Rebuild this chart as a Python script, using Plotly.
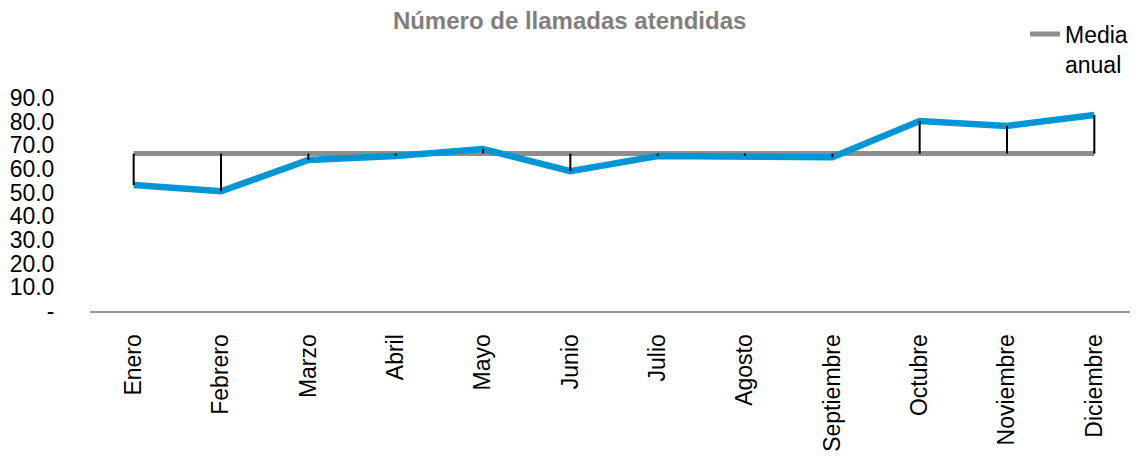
import plotly.graph_objects as go

months = ["Enero", "Febrero", "Marzo", "Abril", "Mayo", "Junio", "Julio",
          "Agosto", "Septiembre", "Octubre", "Noviembre", "Diciembre"]
llamadas = [53.2, 50.6, 63.8, 65.5, 68.4, 59.1, 65.5, 65.5, 65.0, 80.3, 78.2, 82.8]
media = round(sum(llamadas) / len(llamadas), 1)
tick_vals = [0, 10, 20, 30, 40, 50, 60, 70, 80, 90]
tick_text = ["-", "10.0", "20.0", "30.0", "40.0", "50.0", "60.0", "70.0", "80.0", "90.0"]

FONT = "Liberation Sans, Arial, Helvetica, sans-serif"

# drop lines between mean and value
dx, dy = [], []
for m, v in zip(months, llamadas):
    dx += [m, m, None]
    dy += [media, v, None]

fig = go.Figure()
fig.add_trace(go.Scatter(x=months, y=[media] * len(months), mode="lines",
                         name="Media<br>anual", line=dict(color="#8e8e8e", width=5)))
fig.add_trace(go.Scatter(x=months, y=llamadas, mode="lines", name="Llamadas",
                         showlegend=False, line=dict(color="#0096d6", width=6.5)))
fig.add_trace(go.Scatter(x=dx, y=dy, mode="lines", showlegend=False, hoverinfo="skip",
                         line=dict(color="black", width=2)))

fig.update_layout(
    width=1130, height=453,
    margin=dict(l=82, r=0, t=90, b=150, autoexpand=False),
    paper_bgcolor="white", plot_bgcolor="white",
    font=dict(family=FONT, size=23, color="black"),
    title=dict(text="<b>Número de llamadas atendidas</b>", x=0.497, xref="container",
               xanchor="center", y=0.972, yref="container", yanchor="middle",
               font=dict(size=24, color="#7f7f7f", family=FONT)),
    legend=dict(x=0.9, y=0.99, xref="container", yref="container",
                xanchor="left", yanchor="top", valign="top",
                font=dict(size=23), bgcolor="rgba(0,0,0,0)", itemwidth=30),
    showlegend=True,
)
fig.update_xaxes(type="category", range=[-0.5, 11.5], tickangle=-90,
                 showline=True, linecolor="#999999", linewidth=2,
                 showgrid=False, ticks="", ticklabelstandoff=12,
                 tickfont=dict(size=23), automargin=False)
fig.update_yaxes(range=[0, 90], tickvals=tick_vals, ticktext=tick_text,
                 showgrid=False, zeroline=False, showline=False,
                 ticks="outside", ticklen=30, tickcolor="rgba(0,0,0,0)",
                 tickfont=dict(size=23), automargin=False)

fig.write_html("out.html")
